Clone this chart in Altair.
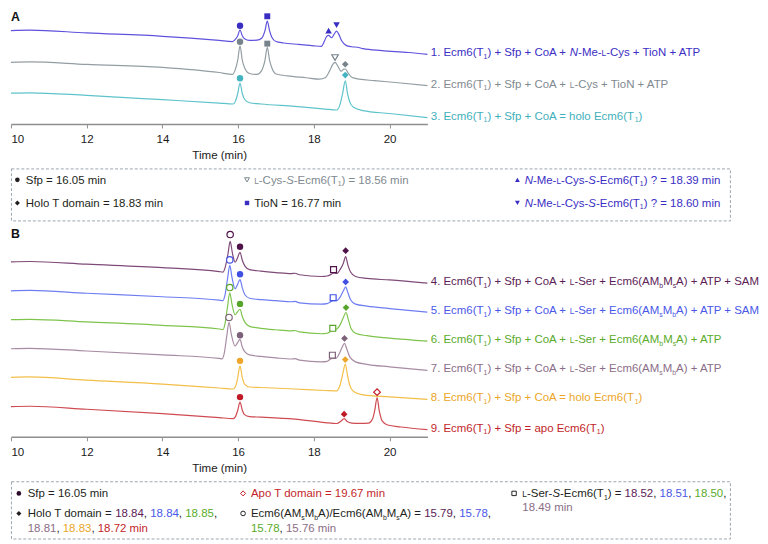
import altair as alt
import pandas as pd

# ----------------------------------------------------------------- data
TIME_TICKS = [10, 12, 14, 16, 18, 20]

# Panel A chromatograms: (time / min, signal above the time axis)
TRACE_1 = [(10.0, 98), (10.5, 98.5), (12.0, 95.5), (14.0, 92), (15.5, 87.7), (15.85, 86.5),
           (15.92, 88.5), (15.99, 92.6), (16.05, 98.7), (16.11, 92.6), (16.17, 89.5), (16.3, 87.7),
           (16.5, 88), (16.62, 90), (16.71, 98), (16.77, 108), (16.83, 98), (16.89, 91), (17.0, 86.5),
           (17.2, 85), (17.6, 83.5), (18.0, 82), (18.2, 81.5), (18.28, 87), (18.34, 92), (18.39, 93),
           (18.47, 90.5), (18.54, 94.5), (18.6, 97.5), (18.66, 94), (18.74, 87), (18.85, 82.5),
           (19.0, 81), (19.15, 80.5), (19.3, 79), (19.8, 77), (20.5, 75), (21.0, 73)]
TRACE_2 = [(10.0, 64.7), (10.5, 65.2), (12.0, 62.5), (14.0, 59.5), (15.5, 54), (15.85, 52),
           (15.92, 56.5), (15.99, 67), (16.05, 82), (16.11, 67), (16.17, 59), (16.3, 53), (16.5, 52),
           (16.62, 56), (16.71, 67), (16.77, 80.3), (16.83, 67), (16.89, 59), (17.0, 52.5), (17.3, 50.5),
           (17.8, 48.5), (18.15, 47), (18.3, 48.5), (18.42, 56), (18.5, 62.5), (18.56, 64.7), (18.63, 61),
           (18.72, 55.3), (18.79, 57.5), (18.83, 57.7), (18.9, 54), (19.0, 49), (19.2, 47), (19.6, 45.5),
           (20.3, 43), (21.0, 40.3)]
TRACE_3 = [(10.0, 32.3), (10.5, 32.7), (12.0, 30), (14.0, 25.5), (15.5, 22), (15.87, 21), (15.93, 24),
           (15.99, 32), (16.05, 43), (16.11, 32), (16.17, 26), (16.3, 22.3), (16.6, 21), (17.5, 18.5),
           (18.3, 15.7), (18.6, 14.7), (18.68, 19), (18.76, 32), (18.83, 45.3), (18.89, 32), (18.95, 23),
           (19.05, 17.5), (19.3, 14), (20.0, 11), (21.0, 6.7)]

# Panel B chromatograms
TRACE_4 = [(10.0, 177.3), (10.5, 177.7), (12.0, 175), (14.0, 171.5), (15.5, 167.5), (15.6, 167),
           (15.66, 172), (15.73, 185), (15.79, 198), (15.85, 186), (15.92, 177), (15.98, 181), (16.05, 187),
           (16.11, 179), (16.18, 173), (16.3, 169.5), (16.6, 168), (17.0, 166.5), (17.4, 165.4),
           (17.5, 165.8), (17.62, 164.3), (18.2, 162.5), (18.35, 163), (18.45, 164.5), (18.52, 166),
           (18.6, 165.5), (18.7, 170), (18.78, 176), (18.84, 182.7), (18.9, 174), (18.97, 167),
           (19.1, 162.5), (19.4, 160.5), (20.0, 159), (21.0, 155.7)]
TRACE_5 = [(10.0, 148), (10.5, 148.4), (12.0, 145.5), (14.0, 142), (15.5, 138.5), (15.6, 138),
           (15.65, 143), (15.72, 160), (15.78, 173.7), (15.84, 161), (15.92, 150), (15.98, 154),
           (16.05, 159.3), (16.11, 151), (16.18, 144), (16.3, 140.5), (16.6, 139), (17.0, 138),
           (17.4, 136.9), (17.5, 137.3), (17.62, 135.8), (18.2, 134.5), (18.35, 135), (18.45, 137),
           (18.51, 138), (18.6, 138), (18.7, 142), (18.78, 148), (18.84, 152), (18.9, 146), (18.97, 139),
           (19.1, 134.5), (19.4, 132.5), (20.0, 130), (21.0, 126.3)]
TRACE_6 = [(10.0, 118.7), (10.5, 119.1), (12.0, 116.5), (14.0, 113), (15.5, 109.3), (15.6, 108.7),
           (15.65, 114), (15.72, 132), (15.78, 146), (15.84, 134), (15.92, 123.7), (15.98, 126.5),
           (16.05, 129.3), (16.11, 122), (16.18, 116), (16.3, 112), (16.6, 110), (17.0, 108.5),
           (17.4, 107.4), (17.5, 107.8), (17.62, 106.3), (18.2, 104.5), (18.35, 105), (18.45, 107),
           (18.5, 108), (18.6, 109), (18.7, 114), (18.78, 121), (18.85, 126), (18.91, 119), (18.98, 110),
           (19.1, 105), (19.4, 102.5), (20.0, 100), (21.0, 97)]
TRACE_7 = [(10.0, 89.3), (10.5, 89.7), (12.0, 87), (14.0, 83), (15.5, 79.5), (15.58, 79), (15.63, 84),
           (15.7, 102), (15.76, 116), (15.82, 104), (15.92, 92), (15.98, 95), (16.05, 98.7), (16.11, 91),
           (16.18, 86), (16.3, 83), (16.6, 81.5), (17.0, 80), (17.4, 78.9), (17.5, 79.3), (17.62, 77.8),
           (18.2, 76), (18.35, 76.5), (18.43, 78.5), (18.49, 79.5), (18.58, 79.5), (18.68, 85),
           (18.75, 91), (18.81, 94.7), (18.87, 89), (18.95, 81), (19.1, 76), (19.4, 73.5), (20.0, 71),
           (21.0, 67.3)]
TRACE_8 = [(10.0, 60.3), (10.5, 60.7), (12.0, 57.5), (14.0, 53.5), (15.5, 49.5), (15.87, 48.5),
           (15.93, 51), (15.99, 60), (16.05, 72), (16.11, 60), (16.17, 53.5), (16.3, 50.5), (16.6, 50),
           (17.5, 48.5), (18.3, 47), (18.6, 46.5), (18.68, 51), (18.76, 63), (18.83, 73.7), (18.89, 62),
           (18.95, 52), (19.05, 46), (19.3, 42.5), (20.0, 40.5), (21.0, 38)]
TRACE_9 = [(10.0, 30.7), (10.5, 31), (12.0, 28), (14.0, 23.5), (15.5, 19.5), (15.87, 18.5),
           (15.93, 20.5), (15.99, 27), (16.05, 35.3), (16.11, 27), (16.17, 22.5), (16.3, 20.5), (16.6, 20),
           (17.5, 18), (18.3, 14.5), (18.6, 13.5), (18.72, 16), (18.8, 18.5), (18.88, 15.5), (19.0, 14),
           (19.2, 13.7), (19.45, 14), (19.55, 18), (19.61, 27), (19.67, 39.7), (19.73, 26), (19.8, 16.5),
           (19.95, 12), (20.3, 10), (21.0, 7.3)]

# Trace labels (markup: _{..} subscript, *..* italic, ~X small capital)
LABELS = {
    1: "1. Ecm6(T_{1}) + Sfp + CoA + *N*-Me-~L-Cys + TioN + ATP",
    2: "2. Ecm6(T_{1}) + Sfp + CoA + ~L-Cys + TioN + ATP",
    3: "3. Ecm6(T_{1}) + Sfp + CoA = holo Ecm6(T_{1})",
    4: "4. Ecm6(T_{1}) + Sfp + CoA + ~L-Ser + Ecm6(AM_{b}M_{s}A) + ATP + SAM",
    5: "5. Ecm6(T_{1}) + Sfp + CoA + ~L-Ser + Ecm6(AM_{s}M_{b}A) + ATP + SAM",
    6: "6. Ecm6(T_{1}) + Sfp + CoA + ~L-Ser + Ecm6(AM_{b}M_{s}A) + ATP",
    7: "7. Ecm6(T_{1}) + Sfp + CoA + ~L-Ser + Ecm6(AM_{s}M_{b}A) + ATP",
    8: "8. Ecm6(T_{1}) + Sfp + CoA = holo Ecm6(T_{1})",
    9: "9. Ecm6(T_{1}) + Sfp = apo Ecm6(T_{1})",
}

# Peak markers: (trace, time / min, signal, symbol, open)
MARKERS_A = [(1, 16.05, 103, "circle", False), (1, 16.77, 113, "square", False),
             (1, 18.39, 98, "triangle-up", False), (1, 18.60, 103.7, "triangle-down", False),
             (2, 16.05, 86.3, "circle", False), (2, 16.77, 84.3, "square", False),
             (2, 18.56, 69.7, "triangle-down", True), (2, 18.83, 62.7, "diamond", False),
             (3, 16.05, 48, "circle", False), (3, 18.83, 51.3, "diamond", False)]
MARKERS_B = [(4, 15.79, 205, "circle", True), (4, 16.05, 192.7, "circle", False),
             (4, 18.52, 169.5, "square", True), (4, 18.84, 188.7, "diamond", False),
             (5, 15.78, 179.3, "circle", True), (5, 16.05, 164.7, "circle", False),
             (5, 18.51, 141, "square", True), (5, 18.84, 157, "diamond", False),
             (6, 15.78, 151.3, "circle", True), (6, 16.05, 134.7, "circle", False),
             (6, 18.50, 110, "square", True), (6, 18.85, 131, "diamond", False),
             (7, 15.76, 121, "circle", True), (7, 16.05, 103, "circle", False),
             (7, 18.49, 82.7, "square", True), (7, 18.81, 99.7, "diamond", False),
             (8, 16.05, 77, "circle", False), (8, 18.83, 78.3, "diamond", False),
             (9, 16.05, 40.3, "circle", False), (9, 18.80, 23, "diamond", False),
             (9, 19.67, 45.3, "diamond", True)]

# ----------------------------------------------------------------- styles
FONT = "Liberation Sans"
FS_LABEL = 11.6
FS_LEG = 11.6
BLACK = "#231f20"
LINE = {1: "#5f52dc", 2: "#939ea3", 3: "#5fc3cb", 4: "#7e4a78", 5: "#6e7ef2",
        6: "#7ec44c", 7: "#a88ca3", 8: "#f3bf48", 9: "#cf4b52"}
TXT = {1: "#3a2ec4", 2: "#7f8a90", 3: "#3fb0bb", 4: "#5c1d56", 5: "#4a58e8",
       6: "#5aab2b", 7: "#8b6d87", 8: "#eba62a", 9: "#c21f2a"}
MRK = {1: "#3a2ec2", 2: "#76838a", 3: "#43b4bf", 4: "#4f1249", 5: "#3f50e2",
       6: "#56a52a", 7: "#7d6079", 8: "#eda52a", 9: "#c01a24"}
BOX = "#9aa6ae"

PW = 422
PPU = PW / 11.0
LABEL_GAP = 3.4

WID = {' ': 278, '(': 333, ')': 333, '+': 584, ',': 278, '-': 333, '.': 278, '/': 278, '=': 584,
       '?': 556, 'A': 667, 'B': 667, 'C': 722, 'D': 722, 'E': 667, 'F': 611, 'G': 778, 'H': 722,
       'I': 278, 'J': 500, 'K': 667, 'L': 556, 'M': 833, 'N': 722, 'O': 778, 'P': 667, 'Q': 778,
       'R': 722, 'S': 667, 'T': 611, 'U': 722, 'V': 667, 'W': 944, 'X': 667, 'Y': 667, 'Z': 611,
       'a': 556, 'b': 556, 'c': 500, 'd': 556, 'e': 556, 'f': 278, 'g': 556, 'h': 556, 'i': 222,
       'j': 222, 'k': 500, 'l': 222, 'm': 833, 'n': 556, 'o': 556, 'p': 556, 'q': 556, 'r': 333,
       's': 500, 't': 278, 'u': 556, 'v': 500, 'w': 722, 'x': 500, 'y': 500, 'z': 500}
SCALE = {"n": 1.0, "i": 1.0, "sc": 0.72, "sub": 0.6}
SUB_DY = {"n": 0, "i": 0, "sc": 0, "sub": 2.5}


def parse(markup):
    runs, buf, italic, i = [], [], False, 0

    def flush():
        if buf:
            runs.append(("".join(buf), "i" if italic else "n"))
            buf.clear()

    while i < len(markup):
        c = markup[i]
        if c == "*":
            flush()
            italic = not italic
            i += 1
        elif c == "~":
            flush()
            runs.append((markup[i + 1], "sc"))
            i += 2
        elif markup.startswith("_{", i):
            flush()
            j = markup.index("}", i)
            runs.append((markup[i + 2:j], "sub"))
            i = j + 1
        else:
            buf.append(c)
            i += 1
    flush()
    return runs


def layout(segments, fs):
    out, x = [], 0.0
    for markup, color in segments:
        for text, kind in parse(markup):
            size = fs * SCALE[kind]
            body = text.lstrip(" ")
            x += (len(text) - len(body)) * WID[" "] / 1000 * size
            if body.strip():
                out.append({"off": x, "text": body.rstrip(" "), "kind": kind, "color": color})
            x += sum(WID.get(ch, 556) for ch in body) / 1000 * size
    return out


def text_layers(df, X, Y, base_dy, fs):
    layers = []
    for kind in ["n", "i", "sc", "sub"]:
        sub = df[df["kind"] == kind]
        if len(sub) == 0:
            continue
        layers.append(
            alt.Chart(sub).mark_text(
                align="left", baseline="alphabetic", font=FONT, fontSize=fs * SCALE[kind],
                fontStyle="italic" if kind == "i" else "normal", dy=base_dy + SUB_DY[kind]
            ).encode(x=X("x"), y=Y("y"), text="text:N", color=alt.Color("color:N", scale=None))
        )
    return layers


PANEL_SIZE = {"circle": 42, "square": 36, "triangle-up": 44, "triangle-down": 44, "diamond": 46}
LEG_SIZE = {"circle": 22, "square": 20, "triangle-up": 24, "triangle-down": 24, "diamond": 26}

AXIS = alt.Axis(
    values=TIME_TICKS, title="Time (min)", grid=False, tickSize=4, tickWidth=1,
    tickColor="#8e8e8e", domainColor="#8e8e8e", domainWidth=1.5, labelFont=FONT,
    labelFontSize=11.7, labelColor="#1a1a1a", labelPadding=6, labelOverlap=False,
    labelAlign={"condition": {"test": "datum.value == 10", "value": "left"}, "value": "center"},
    titleFont=FONT, titleFontSize=11.7, titleFontWeight="normal", titleColor="#1a1a1a",
    titlePadding=4,
)


def build_panel(traces, markers, dom, height, letter, letter_y):
    xs = alt.Scale(domain=[10, 21], nice=False, zero=False)
    ys = alt.Scale(domain=[0, dom], nice=False, zero=False)

    def X(f):
        return alt.X(f, type="quantitative", scale=xs, axis=AXIS)

    def Y(f):
        return alt.Y(f, type="quantitative", scale=ys, axis=None)

    rows = [dict(trace=k, t=t, v=v, col=LINE[k]) for k, pts in traces.items() for t, v in pts]
    lines = alt.Chart(pd.DataFrame(rows)).mark_line(
        interpolate="monotone", strokeWidth=1.2
    ).encode(x=X("t"), y=Y("v"), color=alt.Color("col:N", scale=None), detail="trace:N")

    mk = pd.DataFrame([dict(t=t, v=v, shape=s, col=MRK[k], open=o, sz=PANEL_SIZE[s])
                       for k, t, v, s, o in markers])
    filled = alt.Chart(mk[~mk["open"]]).mark_point(filled=True, opacity=1, strokeWidth=0).encode(
        x=X("t"), y=Y("v"), shape=alt.Shape("shape:N", scale=None),
        color=alt.Color("col:N", scale=None), size=alt.Size("sz:Q", scale=None))
    hollow = alt.Chart(mk[mk["open"]]).mark_point(
        filled=False, fill="white", fillOpacity=1, opacity=1, strokeWidth=1.2
    ).encode(x=X("t"), y=Y("v"), shape=alt.Shape("shape:N", scale=None),
             stroke=alt.Stroke("col:N", scale=None), size=alt.Size("sz:Q", scale=None))

    lab_rows = []
    for k, pts in traces.items():
        t_end, v_end = pts[-1]
        for p in layout([(LABELS[k], TXT[k])], FS_LABEL):
            lab_rows.append(dict(x=t_end + (LABEL_GAP + p["off"]) / PPU, y=v_end,
                                 text=p["text"], kind=p["kind"], color=p["color"]))
    texts = text_layers(pd.DataFrame(lab_rows), X, Y, 2, FS_LABEL)

    let = alt.Chart(pd.DataFrame({"s": [letter]})).mark_text(
        align="left", baseline="top", font=FONT, fontSize=12.5, fontWeight="bold", color="#111111"
    ).encode(x=alt.value(0), y=alt.value(letter_y), text="s:N")

    return alt.layer(lines, filled, hollow, *texts, let).properties(width=PW, height=height)


def build_legend(entries, mcols, tcols, width, height):
    def X(f):
        return alt.X(f, type="quantitative", scale=None, axis=None)

    def Y(f):
        return alt.Y(f, type="quantitative", scale=None, axis=None)

    mrows, trows = [], []
    for col, y, marker, segs in entries:
        if marker is not None:
            shape, color, is_open = marker
            mrows.append(dict(x=mcols[col], y=y, shape=shape, col=color, open=is_open,
                              sz=LEG_SIZE[shape]))
        for p in layout(segs, FS_LEG):
            trows.append(dict(x=tcols[col] + p["off"], y=y, text=p["text"],
                              kind=p["kind"], color=p["color"]))
    mk = pd.DataFrame(mrows)
    layers = []
    if (~mk["open"]).any():
        layers.append(alt.Chart(mk[~mk["open"]]).mark_point(filled=True, opacity=1, strokeWidth=0).encode(
            x=X("x"), y=Y("y"), shape=alt.Shape("shape:N", scale=None),
            color=alt.Color("col:N", scale=None), size=alt.Size("sz:Q", scale=None)))
    if mk["open"].any():
        layers.append(alt.Chart(mk[mk["open"]]).mark_point(
            filled=False, fill="white", fillOpacity=1, opacity=1, strokeWidth=1
        ).encode(x=X("x"), y=Y("y"), shape=alt.Shape("shape:N", scale=None),
                 stroke=alt.Stroke("col:N", scale=None), size=alt.Size("sz:Q", scale=None)))
    layers += text_layers(pd.DataFrame(trows), X, Y, 4, FS_LEG)
    return alt.layer(*layers).properties(
        width=width, height=height,
        view=alt.ViewBackground(stroke=BOX, strokeWidth=1, strokeDash=[3, 2]))


LEGEND_A = [
    (0, 11.6, ("circle", BLACK, False), [("Sfp = 16.05 min", BLACK)]),
    (0, 35.0, ("diamond", BLACK, False), [("Holo T domain = 18.83 min", BLACK)]),
    (1, 11.6, ("triangle-down", MRK[2], True), [("~L-Cys-*S*-Ecm6(T_{1}) = 18.56 min", TXT[2])]),
    (1, 35.0, ("square", MRK[1], False), [("TioN = 16.77 min", BLACK)]),
    (2, 11.6, ("triangle-up", MRK[1], False), [("*N*-Me-~L-Cys-*S*-Ecm6(T_{1}) ? = 18.39 min", TXT[1])]),
    (2, 35.0, ("triangle-down", MRK[1], False), [("*N*-Me-~L-Cys-*S*-Ecm6(T_{1}) ? = 18.60 min", TXT[1])]),
]
LEGEND_B = [
    (0, 12.3, ("circle", "#2a0b28", False), [("Sfp = 16.05 min", BLACK)]),
    (0, 32.6, ("diamond", BLACK, False),
     [("Holo T domain = ", BLACK), ("18.84", TXT[4]), (", ", BLACK), ("18.84", TXT[5]),
      (", ", BLACK), ("18.85", TXT[6]), (",", BLACK)]),
    (0, 47.3, None, [("18.81", TXT[7]), (", ", BLACK), ("18.83", TXT[8]), (", ", BLACK),
                     ("18.72 min", TXT[9])]),
    (1, 12.3, ("diamond", MRK[9], True), [("Apo T domain = 19.67 min", TXT[9])]),
    (1, 32.6, ("circle", BLACK, True),
     [("Ecm6(AM_{s}M_{b}A)/Ecm6(AM_{b}M_{s}A) = ", BLACK), ("15.79", TXT[4]), (", ", BLACK),
      ("15.78", TXT[5]), (",", BLACK)]),
    (1, 47.3, None, [("15.78", TXT[6]), (", ", BLACK), ("15.76 min", TXT[7])]),
    (2, 12.3, ("square", BLACK, True),
     [("~L-Ser-*S*-Ecm6(T_{1}) = ", BLACK), ("18.52", TXT[4]), (", ", BLACK), ("18.51", TXT[5]),
      (", ", BLACK), ("18.50", TXT[6]), (",", BLACK)]),
    (2, 26.3, None, [("18.49 min", TXT[7])]),
]

panel_a = build_panel({1: TRACE_1, 2: TRACE_2, 3: TRACE_3}, MARKERS_A, 118, 114, "A", 0)
legend_a = build_legend(LEGEND_A, [6.5, 239.2, 513.2], [15, 246.5, 520.5], 728.5, 52.7)
panel_b = build_panel({4: TRACE_4, 5: TRACE_5, 6: TRACE_6, 7: TRACE_7, 8: TRACE_8, 9: TRACE_9},
                      MARKERS_B, 212, 212, "B", 1)
legend_b = build_legend(LEGEND_B, [8, 235.2, 509.8], [17, 243.2, 518.2], 728.5, 58)

chart = alt.vconcat(panel_a, legend_a, panel_b, legend_b, spacing=6).properties(
    padding=0, background="white"
).configure_view(strokeWidth=0)

chart.save("out.html", embed_options={"renderer": "svg", "actions": False})
